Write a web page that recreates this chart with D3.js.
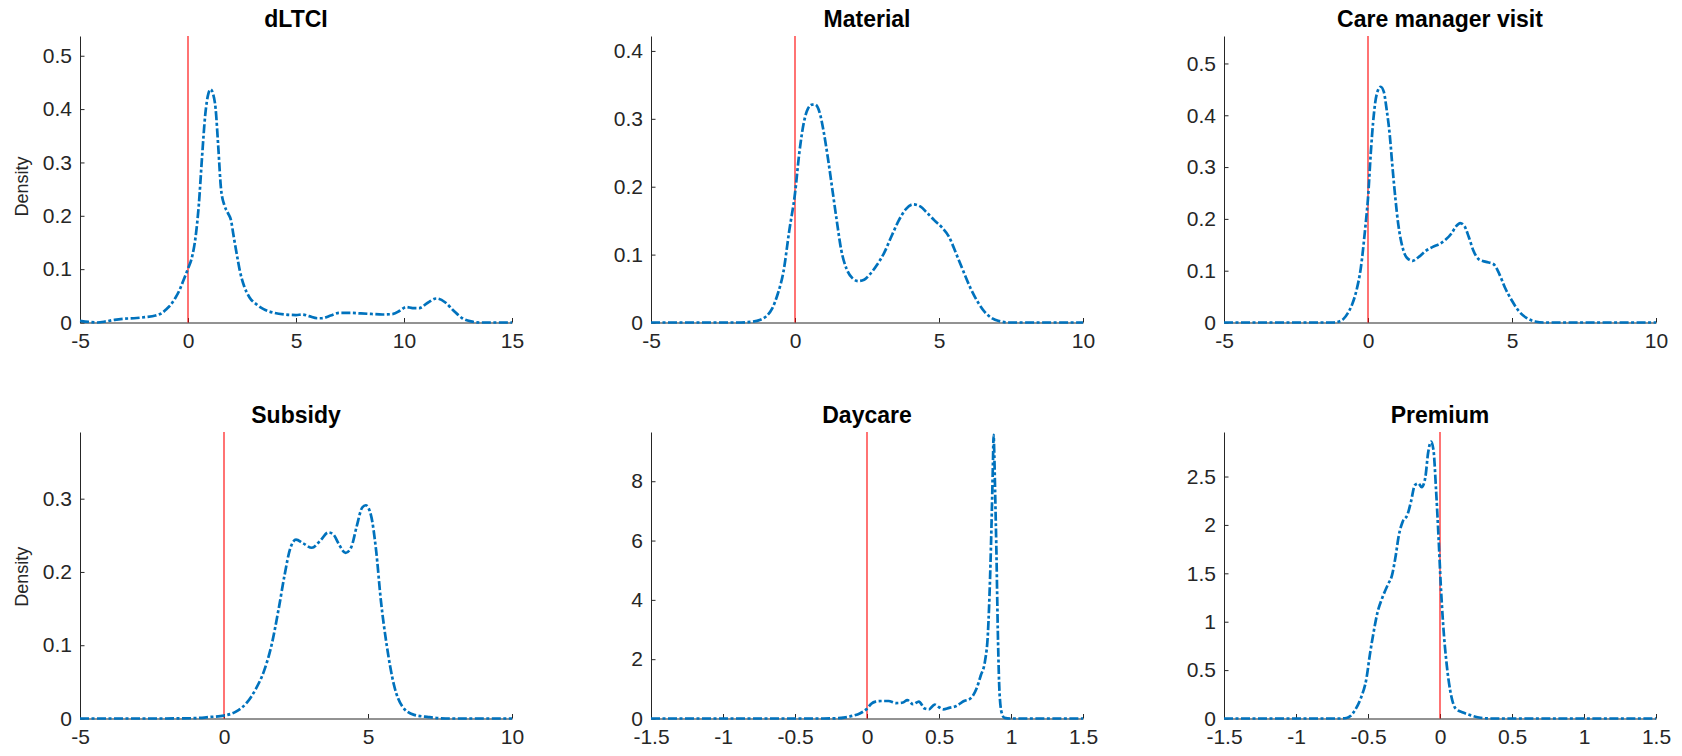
<!DOCTYPE html>
<html>
<head>
<meta charset="utf-8">
<script src="https://cdn.jsdelivr.net/npm/d3@7"></script>
<style>
  html, body { margin: 0; padding: 0; background: #fff; }
  svg { display: block; }
  .tick text { font-family: "Liberation Sans", Arial, sans-serif; fill: #262626; }
</style>
</head>
<body>
<svg id="chart" width="1682" height="756"></svg>
<script>
// ---------------- DATA ----------------
const titles = ["dLTCI", "Material", "Care manager visit", "Subsidy", "Daycare", "Premium"];
const xDomains = [[-5, 15], [-5, 10], [-5, 10], [-5, 10], [-1.5, 1.5], [-1.5, 1.5]];
const xTickValues = [
  [-5, 0, 5, 10, 15],
  [-5, 0, 5, 10],
  [-5, 0, 5, 10],
  [-5, 0, 5, 10],
  [-1.5, -1, -0.5, 0, 0.5, 1, 1.5],
  [-1.5, -1, -0.5, 0, 0.5, 1, 1.5]
];
const yMaxes = [0.537, 0.422, 0.553, 0.391, 9.66, 2.96];
const yTickValues = [
  [0, 0.1, 0.2, 0.3, 0.4, 0.5],
  [0, 0.1, 0.2, 0.3, 0.4],
  [0, 0.1, 0.2, 0.3, 0.4, 0.5],
  [0, 0.1, 0.2, 0.3],
  [0, 2, 4, 6, 8],
  [0, 0.5, 1, 1.5, 2, 2.5]
];
const yLabels = ["Density", "", "", "Density", "", ""];
const refLine = [0, 0, 0, 0, 0, 0];

const dltciX = [-5,-4.6,-4.2,-3.8,-3.4,-3,-2.5,-2,-1.5,-1.2,-1,-0.8,-0.6,-0.4,-0.2,0,0.2,0.35,0.5,0.65,0.8,0.95,1.05,1.15,1.28,1.4,1.53,1.7,1.85,2.0,2.1,2.25,2.4,2.6,2.85,3.2,3.5,4,4.5,5,5.3,5.6,6,6.2,6.6,7,7.5,8,8.5,9,9.5,9.8,10.1,10.4,10.7,11.1,11.5,11.9,12.3,12.7,13.1,13.5,14,15];
const dltciY = [0.003,0.001,0.0,0.002,0.005,0.007,0.008,0.01,0.013,0.018,0.025,0.033,0.045,0.06,0.08,0.101,0.125,0.16,0.22,0.31,0.39,0.43,0.437,0.43,0.40,0.33,0.25,0.218,0.205,0.19,0.165,0.13,0.097,0.068,0.047,0.033,0.025,0.018,0.015,0.014,0.015,0.012,0.008,0.008,0.013,0.018,0.018,0.017,0.016,0.015,0.016,0.022,0.029,0.027,0.027,0.037,0.045,0.038,0.022,0.008,0.002,0.0,0,0];

const materialX = [-5,-3,-2,-1.5,-1.2,-1.0,-0.8,-0.6,-0.4,-0.2,0,0.15,0.3,0.45,0.6,0.7,0.85,1.0,1.15,1.3,1.45,1.6,1.8,2.0,2.2,2.4,2.6,2.85,3.1,3.35,3.6,3.85,4.1,4.35,4.6,4.85,5.1,5.35,5.6,5.85,6.1,6.35,6.6,6.85,7.1,7.4,8,10];
const materialY = [0,0,0,0.001,0.004,0.009,0.02,0.042,0.075,0.135,0.19,0.25,0.293,0.315,0.321,0.321,0.31,0.28,0.24,0.195,0.15,0.108,0.078,0.065,0.061,0.063,0.071,0.085,0.103,0.127,0.15,0.167,0.174,0.171,0.161,0.15,0.14,0.126,0.101,0.075,0.05,0.03,0.015,0.006,0.002,0,0,0];

const careX = [-5,-2,-1.2,-1.0,-0.85,-0.7,-0.55,-0.4,-0.25,-0.1,0,0.1,0.2,0.3,0.44,0.55,0.65,0.75,0.85,0.95,1.05,1.2,1.35,1.55,1.75,2.0,2.25,2.5,2.7,2.9,3.05,3.2,3.35,3.5,3.65,3.85,4.1,4.35,4.55,4.75,5.0,5.25,5.5,5.8,6.1,6.5,10];
const careY = [0,0,0,0.002,0.007,0.018,0.035,0.062,0.105,0.18,0.24,0.33,0.4,0.44,0.455,0.445,0.41,0.365,0.3,0.24,0.19,0.145,0.125,0.119,0.126,0.138,0.146,0.152,0.16,0.172,0.185,0.192,0.186,0.165,0.14,0.122,0.117,0.113,0.095,0.068,0.042,0.021,0.009,0.002,0,0,0];

const subsidyX = [-5,-2,-1,-0.5,0,0.4,0.8,1.1,1.4,1.65,1.9,2.1,2.3,2.5,2.75,3.05,3.35,3.62,3.8,4.0,4.22,4.42,4.6,4.8,4.92,5.1,5.28,5.45,5.65,5.9,6.2,6.6,7.1,7.7,10];
const subsidyY = [0,0,0.0005,0.002,0.004,0.009,0.022,0.04,0.066,0.1,0.15,0.195,0.232,0.244,0.239,0.233,0.243,0.254,0.251,0.237,0.226,0.234,0.261,0.288,0.291,0.278,0.23,0.16,0.1,0.046,0.016,0.005,0.002,0,0];

const daycareX = [-1.5,-0.3,-0.2,-0.15,-0.1,-0.05,0,0.03,0.06,0.1,0.15,0.2,0.25,0.28,0.32,0.36,0.4,0.43,0.47,0.5,0.53,0.57,0.62,0.67,0.72,0.76,0.79,0.82,0.84,0.855,0.867,0.875,0.879,0.884,0.89,0.898,0.91,0.92,0.935,0.955,1.0,1.5];
const daycareY = [0,0,0.01,0.04,0.09,0.17,0.33,0.5,0.57,0.59,0.59,0.52,0.54,0.62,0.48,0.57,0.34,0.31,0.47,0.38,0.31,0.36,0.42,0.58,0.68,1.0,1.45,1.95,2.9,4.8,7.0,8.7,9.56,8.9,7.6,5.8,2.6,0.9,0.2,0.02,0,0];

const premiumX = [-1.5,-0.7,-0.65,-0.62,-0.59,-0.55,-0.51,-0.487,-0.46,-0.435,-0.4,-0.36,-0.335,-0.31,-0.285,-0.26,-0.225,-0.2,-0.175,-0.15,-0.127,-0.102,-0.082,-0.062,-0.045,-0.027,-0.01,0.005,0.022,0.047,0.072,0.11,0.16,0.21,0.27,0.35,1.5];
const premiumY = [0,0,0.005,0.028,0.087,0.21,0.42,0.66,0.9,1.09,1.25,1.39,1.47,1.66,1.9,2.03,2.11,2.25,2.41,2.43,2.39,2.49,2.75,2.86,2.77,2.35,1.87,1.39,0.97,0.55,0.28,0.10,0.062,0.035,0.01,0,0];

const seriesX = [dltciX, materialX, careX, subsidyX, daycareX, premiumX];
const seriesY = [dltciY, materialY, careY, subsidyY, daycareY, premiumY];

// ---------------- LAYOUT ----------------
const colLeft = [80, 651, 1224];
const rowTop = [36, 432];
const plotW = 432;
const plotH = 286.5;
const axisColor = "#262626";
const lineColor = "#0072BD";
const tickFont = 21;
const yLabelFrac = [0.525, 0, 0, 0.505, 0, 0];

const svg = d3.select("#chart");

titles.forEach((title, i) => {
  const col = i % 3, row = Math.floor(i / 3);
  const g = svg.append("g").attr("transform", `translate(${colLeft[col]},${rowTop[row]})`);

  const x = d3.scaleLinear().domain(xDomains[i]).range([0, plotW]);
  const y = d3.scaleLinear().domain([0, yMaxes[i]]).range([plotH, 0]);

  // axes
  const xAxis = d3.axisBottom(x).tickValues(xTickValues[i]).tickFormat(d => String(d))
    .tickSizeInner(-4.5).tickSizeOuter(0).tickPadding(11);
  const yAxis = d3.axisLeft(y).tickValues(yTickValues[i]).tickFormat(d => String(d))
    .tickSizeInner(-4.5).tickSizeOuter(0).tickPadding(8);

  const gx = g.append("g").attr("transform", `translate(0,${plotH})`).call(xAxis);
  const gy = g.append("g").call(yAxis);
  [gx, gy].forEach(a => {
    a.select(".domain").attr("stroke", axisColor).attr("stroke-width", 1);
    a.selectAll(".tick line").attr("stroke", axisColor).attr("stroke-width", 1);
    a.selectAll(".tick text").style("font-size", tickFont + "px").attr("fill", axisColor);
  });

  // reference line at 0
  g.append("line")
    .attr("x1", x(refLine[i])).attr("x2", x(refLine[i]))
    .attr("y1", y(0)).attr("y2", y(yMaxes[i]))
    .attr("stroke", "#ff0000").attr("stroke-width", 1.1);

  // density curve
  const pts = seriesX[i].map((v, k) => [v, seriesY[i][k]]);
  const line = d3.line().x(d => x(d[0])).y(d => y(d[1])).curve(d3.curveMonotoneX);
  g.append("path")
    .attr("d", line(pts))
    .attr("fill", "none")
    .attr("stroke", lineColor)
    .attr("stroke-width", 2.7)
    .attr("stroke-dasharray", "9,2.5,3,2.5");

  // title
  g.append("text")
    .attr("x", plotW / 2).attr("y", -9)
    .attr("text-anchor", "middle")
    .style("font-family", "'Liberation Sans', Arial, sans-serif")
    .style("font-weight", "bold")
    .style("font-size", "23px")
    .attr("fill", "#000")
    .text(title);

  // y label
  if (yLabels[i]) {
    g.append("text")
      .attr("transform", `translate(${28 - colLeft[col]},${plotH * yLabelFrac[i]}) rotate(-90)`)
      .attr("text-anchor", "middle")
      .style("font-family", "'Liberation Sans', Arial, sans-serif")
      .style("font-size", "18px")
      .attr("fill", axisColor)
      .text(yLabels[i]);
  }
});
</script>
</body>
</html>
